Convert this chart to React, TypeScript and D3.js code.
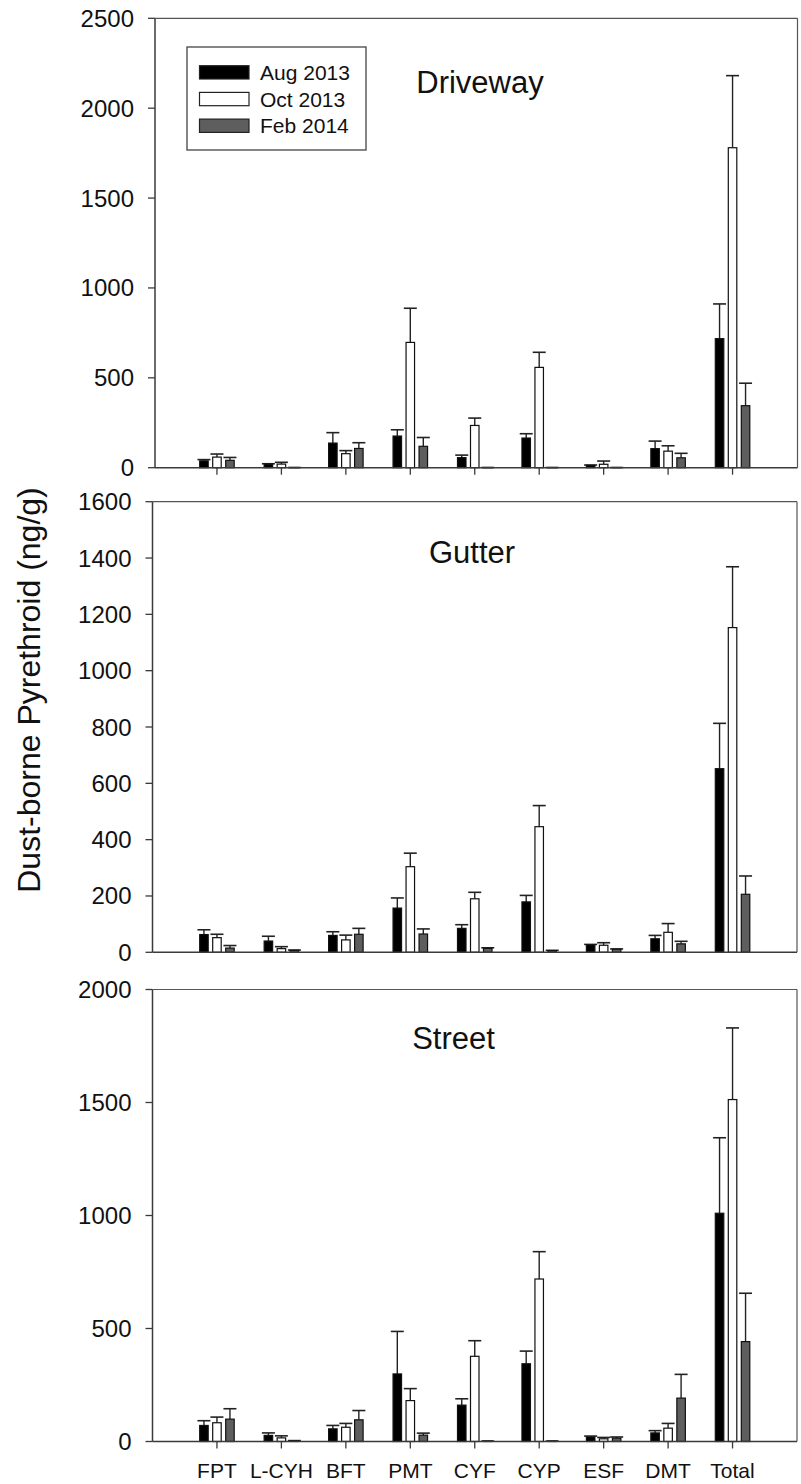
import React from "react";
import * as d3 from "d3";

const categories = ["FPT", "L-CYH", "BFT", "PMT", "CYF", "CYP", "ESF", "DMT", "Total"];
const seriesNames = ["Aug 2013", "Oct 2013", "Feb 2014"];
const seriesFill = ["#000000", "#ffffff", "#5e5e5e"];

// Driveway
const drivewayAug = [38, 20, 137, 176, 56, 165, 13, 106, 718];
const drivewayAugSE = [7, 2, 58, 35, 14, 24, 2, 42, 193];
const drivewayOct = [59, 20, 78, 697, 235, 558, 19, 92, 1780];
const drivewayOctSE = [17, 10, 17, 190, 41, 84, 18, 30, 401];
const drivewayFeb = [41, 1, 107, 119, 1, 1, 1, 55, 345];
const drivewayFebSE = [16, 0, 32, 49, 0, 0, 0, 25, 125];
const drivewayTicks = [0, 500, 1000, 1500, 2000, 2500];

// Gutter
const gutterAug = [63, 40, 60, 157, 85, 179, 26, 48, 652];
const gutterAugSE = [17, 17, 13, 36, 13, 23, 2, 12, 161];
const gutterOct = [52, 13, 44, 304, 190, 446, 25, 71, 1153];
const gutterOctSE = [12, 7, 17, 48, 23, 75, 9, 31, 216];
const gutterFeb = [15, 7, 64, 65, 14, 6, 11, 30, 206];
const gutterFebSE = [9, 1, 21, 18, 2, 1, 1, 9, 65];
const gutterTicks = [0, 200, 400, 600, 800, 1000, 1200, 1400, 1600];

// Street
const streetAug = [71, 27, 56, 299, 161, 344, 20, 38, 1010];
const streetAugSE = [21, 11, 15, 188, 28, 56, 4, 10, 334];
const streetOct = [83, 16, 63, 181, 377, 719, 12, 59, 1513];
const streetOctSE = [25, 9, 17, 53, 69, 121, 6, 21, 317];
const streetFeb = [99, 3, 96, 28, 2, 2, 15, 192, 442];
const streetFebSE = [46, 1, 41, 9, 0, 0, 5, 105, 214];
const streetTicks = [0, 500, 1000, 1500, 2000];

const yTitle = "Dust-borne Pyrethroid (ng/g)";

const FONT = "'Liberation Sans', Arial, Helvetica, sans-serif";

type PanelDef = {
  title: string;
  means: number[][];
  ses: number[][];
  ticks: number[];
  max: number;
  left: number;
  right: number;
  top: number;
  bottom: number;
  titleX: number;
  titleY: number;
  xTicks: boolean;
  xLabels: boolean;
  legend: boolean;
};

const panels: PanelDef[] = [
  {
    title: "Driveway",
    means: [drivewayAug, drivewayOct, drivewayFeb],
    ses: [drivewayAugSE, drivewayOctSE, drivewayFebSE],
    ticks: drivewayTicks,
    max: 2500,
    left: 155,
    right: 797.5,
    top: 18.3,
    bottom: 467.7,
    titleX: 480,
    titleY: 93,
    xTicks: true,
    xLabels: false,
    legend: true,
  },
  {
    title: "Gutter",
    means: [gutterAug, gutterOct, gutterFeb],
    ses: [gutterAugSE, gutterOctSE, gutterFebSE],
    ticks: gutterTicks,
    max: 1600,
    left: 152.5,
    right: 797,
    top: 501.7,
    bottom: 952.3,
    titleX: 472,
    titleY: 563,
    xTicks: false,
    xLabels: false,
    legend: false,
  },
  {
    title: "Street",
    means: [streetAug, streetOct, streetFeb],
    ses: [streetAugSE, streetOctSE, streetFebSE],
    ticks: streetTicks,
    max: 2000,
    left: 152.5,
    right: 797,
    top: 989.5,
    bottom: 1441.5,
    titleX: 453.5,
    titleY: 1049,
    xTicks: true,
    xLabels: true,
    legend: false,
  },
];

function Panel({ p }: { p: PanelDef }) {
  const x = d3.scalePoint<string>().domain(categories).range([152.5, 797]).padding(1);
  const xs = d3.scalePoint<string>().domain(seriesNames).range([-13, 13]);
  const y = d3.scaleLinear().domain([0, p.max]).range([p.bottom, p.top]);
  const barW = 8.5;
  const capW = 13;
  const axisColor = "#3a3a3a";

  return (
    <g>
      {/* bars */}
      {seriesNames.map((s, si) =>
        categories.map((c, ci) => {
          const m = p.means[si][ci];
          const e = p.ses[si][ci];
          const cx = (x(c) as number) + (xs(s) as number);
          const yTop = y(m);
          const yErr = y(m + e);
          return (
            <g key={s + c}>
              <line x1={cx} x2={cx} y1={yTop} y2={yErr} stroke="#222" strokeWidth={1.4} />
              <line x1={cx - capW / 2} x2={cx + capW / 2} y1={yErr} y2={yErr} stroke="#222" strokeWidth={1.6} />
              <rect
                x={cx - barW / 2}
                y={yTop}
                width={barW}
                height={Math.max(0, p.bottom - yTop)}
                fill={seriesFill[si]}
                stroke="#111"
                strokeWidth={1.2}
              />
            </g>
          );
        })
      )}
      {/* frame */}
      <line x1={p.left} x2={p.left} y1={p.top} y2={p.bottom} stroke={axisColor} strokeWidth={1.5} />
      <line x1={p.left} x2={p.right} y1={p.bottom} y2={p.bottom} stroke={axisColor} strokeWidth={1.5} />
      <line x1={p.left} x2={p.right} y1={p.top} y2={p.top} stroke="#555" strokeWidth={1.2} />
      <line x1={p.right} x2={p.right} y1={p.top} y2={p.bottom} stroke="#555" strokeWidth={1.2} />
      {/* y ticks */}
      {p.ticks.map((t) => (
        <g key={t}>
          <line x1={p.left - 7} x2={p.left} y1={y(t)} y2={y(t)} stroke={axisColor} strokeWidth={1.3} />
          <text
            x={p.left - 21}
            y={y(t)}
            textAnchor="end"
            dominantBaseline="central"
            fontSize={24}
            fontFamily={FONT}
            fill="#111"
          >
            {t}
          </text>
        </g>
      ))}
      {/* x ticks */}
      {p.xTicks &&
        categories.map((c) => (
          <line
            key={c}
            x1={x(c) as number}
            x2={x(c) as number}
            y1={p.bottom}
            y2={p.bottom + 7}
            stroke={axisColor}
            strokeWidth={1.3}
          />
        ))}
      {p.xLabels &&
        categories.map((c) => (
          <text
            key={"l" + c}
            x={x(c) as number}
            y={1478}
            textAnchor="middle"
            fontSize={21}
            fontFamily={FONT}
            fill="#111"
          >
            {c}
          </text>
        ))}
      {/* title */}
      <text x={p.titleX} y={p.titleY} textAnchor="middle" fontSize={31} fontFamily={FONT} fill="#111">
        {p.title}
      </text>
      {p.legend && (
        <g>
          <rect x={187} y={47} width={179} height={103} fill="#fff" stroke="#444" strokeWidth={1.3} />
          {seriesNames.map((s, si) => (
            <g key={s}>
              <rect
                x={199.5}
                y={65.7 + si * 26.7}
                width={49.5}
                height={13.3}
                fill={seriesFill[si]}
                stroke="#222"
                strokeWidth={1.2}
              />
              <text
                x={260}
                y={72.3 + si * 26.7}
                dominantBaseline="central"
                fontSize={21}
                fontFamily={FONT}
                fill="#111"
              >
                {s}
              </text>
            </g>
          ))}
        </g>
      )}
    </g>
  );
}

export default function App() {
  return (
    <svg
      width={801}
      height={1484}
      style={{ position: "absolute", left: 0, top: 0, background: "#fff" }}
    >
      <rect x={0} y={0} width={801} height={1484} fill="#fff" />
      {panels.map((p) => (
        <Panel key={p.title} p={p} />
      ))}
      <text
        transform="translate(29,690) rotate(-90)"
        textAnchor="middle"
        dominantBaseline="central"
        fontSize={32}
        fontFamily={FONT}
        fill="#111"
      >
        {yTitle}
      </text>
    </svg>
  );
}
